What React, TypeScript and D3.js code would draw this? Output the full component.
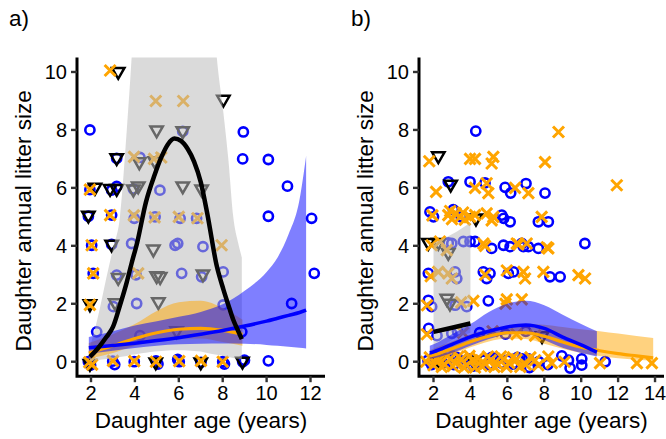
import React from "react";
import * as d3 from "d3";

type Pt = [number, number];
// x, fitted value, lower bound, upper bound
type Fit = [number, number, number, number];

const BLUE = "#0000ff";
const ORANGE = "#ffa500";
const FONT = "'Liberation Sans', Arial, sans-serif";

const yTicks = [0, 2, 4, 6, 8, 10];
const xTicksA = [2, 4, 6, 8, 10, 12];
const xTicksB = [2, 4, 6, 8, 10, 12, 14];

// ---- panel a) points ----
const circlesA: Pt[] = [
  [1.95, 8.0], [6.18, 7.95], [8.94, 7.93],
  [3.17, 7.02], [4.23, 7.05], [8.91, 7.0], [10.08, 6.98],
  [1.95, 5.94], [2.94, 5.92], [3.17, 6.05], [3.93, 5.96], [5.14, 5.92], [10.95, 6.06],
  [1.88, 5.02], [2.94, 5.06], [3.97, 4.95], [4.92, 5.0], [6.06, 4.95], [6.81, 4.95], [10.08, 5.02], [12.05, 4.95],
  [2.03, 4.02], [2.94, 4.05], [3.85, 4.08], [5.83, 4.02], [5.95, 4.08], [7.1, 3.97],
  [2.1, 3.05], [3.17, 2.99], [4.05, 3.0], [6.13, 3.05], [7.04, 2.93], [8.02, 3.1], [12.17, 3.05],
  [3.02, 1.9], [4.08, 2.01], [8.02, 1.96], [11.14, 2.01],
  [2.26, 1.03], [4.23, 0.9], [8.87, 1.03],
  [1.88, 0.0], [1.98, -0.12], [2.99, 0.02], [3.08, -0.1], [3.97, 0.0], [4.96, 0.03], [5.05, -0.08],
  [6.02, 0.0], [5.95, 0.08], [7.01, -0.02], [8.0, 0.0], [8.08, -0.08], [8.91, 0.0], [8.99, 0.05], [10.08, 0.03],
];
const crossesA: Pt[] = [
  [2.87, 10.05], [4.95, 9.0], [6.2, 9.0], [3.96, 7.07], [4.87, 7.0], [5.2, 7.05],
  [1.95, 5.94], [2.87, 5.06], [3.95, 5.05], [4.9, 4.98], [6.0, 5.0], [6.85, 4.95],
  [2.03, 4.02], [7.95, 4.02], [2.1, 3.05], [4.15, 3.05], [1.95, 1.96],
  [1.92, -0.02], [2.05, -0.1], [3.0, 0.03], [3.97, 0.02], [4.96, 0.0], [6.02, 0.02], [7.01, 0.03], [8.0, 0.0],
];
const trianglesA: Pt[] = [
  [3.24, 9.98], [8.03, 9.02], [4.99, 7.96], [6.18, 7.93], [3.17, 7.0], [4.2, 6.86], [4.9, 6.9],
  [2.18, 5.98], [2.87, 5.94], [3.17, 5.94], [3.93, 5.92], [4.15, 6.03], [6.18, 6.03], [7.04, 5.92], [1.88, 5.02],
  [2.94, 4.02], [4.84, 3.85], [7.1, 2.99], [3.24, 2.87], [4.99, 2.93], [5.15, 2.9],
  [1.95, 1.96], [3.1, 2.0], [5.07, 2.03], [5.9, 1.03],
  [1.95, -0.1], [4.95, -0.05], [7.0, -0.05], [8.9, -0.02],
];

// ---- panel a) fitted curves ----
const blackFitA: Fit[] = [
  [1.95, 0.17, 0.02, 0.5], [2.3, 0.45, 0.05, 1.5], [2.7, 0.85, 0.09, 2.9], [3.0, 1.2, 0.12, 3.9],
  [3.32, 1.95, 0.16, 5.0], [3.63, 2.75, 0.2, 8.0], [3.85, 3.4, 0.24, 10.5], [4.1, 4.1, 0.27, 14],
  [4.5, 5.5, 0.31, 20], [4.9, 6.45, 0.35, 24], [5.2, 7.05, 0.37, 26], [5.5, 7.5, 0.39, 27],
  [5.8, 7.7, 0.4, 27], [6.1, 7.62, 0.4, 27], [6.4, 7.35, 0.39, 26], [6.7, 6.9, 0.37, 24],
  [7.0, 6.2, 0.35, 20], [7.3, 5.1, 0.3, 15], [7.73, 3.3, 0.24, 10.5], [8.03, 2.5, 0.2, 8.6],
  [8.26, 1.95, 0.16, 6.96], [8.48, 1.45, 0.13, 5.0], [8.71, 1.05, 0.1, 4.08], [8.87, 0.78, 0.08, 3.6],
];
const orangeFitA: Fit[] = [
  [1.9, 0.3, 0.1, 0.65], [3, 0.55, 0.3, 0.95], [4, 0.8, 0.55, 1.3], [5, 1.0, 0.72, 1.75],
  [6, 1.12, 0.8, 2.05], [7, 1.15, 0.8, 2.1], [8, 1.08, 0.68, 1.85], [8.9, 0.95, 0.55, 1.45],
];
const blueFitA: Fit[] = [
  [1.9, 0.48, 0.28, 0.85], [3, 0.56, 0.38, 1.05], [4, 0.64, 0.47, 1.25], [5, 0.73, 0.55, 1.4],
  [6, 0.83, 0.6, 1.55], [7, 0.95, 0.62, 1.72], [8, 1.08, 0.63, 1.98], [9, 1.23, 0.62, 2.45],
  [10, 1.4, 0.58, 3.1], [10.5, 1.5, 0.55, 3.6], [11, 1.6, 0.52, 4.4], [11.5, 1.7, 0.48, 5.6], [11.8, 1.78, 0.46, 7.1],
];

// ---- panel b) points ----
const circlesB: Pt[] = [
  [4.29, 7.96],
  [2.8, 6.21], [3.98, 6.21], [4.79, 6.17], [5.88, 6.02], [6.18, 5.82], [7.01, 6.15], [8.04, 5.82],
  [1.81, 5.17], [2.0, 5.0], [3.07, 5.25], [3.5, 5.0], [5.7, 5.06], [5.8, 4.95], [6.15, 4.83], [7.68, 4.83], [8.22, 4.83],
  [2.8, 4.1], [2.99, 4.08], [3.62, 4.15], [3.98, 4.15], [4.25, 4.15], [5.15, 3.91], [5.79, 4.02], [6.15, 3.97],
  [6.78, 4.08], [6.87, 3.97], [7.14, 3.97], [7.68, 3.91], [10.2, 4.08],
  [1.72, 3.05], [3.17, 3.1], [3.26, 2.87], [4.7, 3.1], [4.88, 2.87], [5.06, 3.05], [6.05, 3.05], [6.33, 3.1],
  [8.31, 2.93], [8.86, 2.93],
  [1.72, 2.12], [1.9, 1.9], [3.17, 1.95], [3.8, 1.9], [4.97, 2.1],
  [1.74, 1.15], [2.19, 0.9], [2.99, 0.98], [3.3, 1.05], [4.5, 1.0], [5.9, 0.95], [7.0, 1.05],
  [1.7, 0.05], [1.9, -0.1], [2.05, 0.18], [2.2, 0.1], [2.5, -0.05], [2.8, 0.08], [3.1, -0.1], [3.25, 0.15],
  [3.4, 0.05], [3.7, -0.05], [4.0, 0.1], [4.15, -0.15], [4.3, -0.08], [4.7, 0.05], [5.0, -0.1], [5.15, 0.15],
  [5.3, 0.08], [5.7, -0.05], [6.0, 0.05], [6.3, -0.08], [6.55, 0.15], [6.8, 0.1], [7.14, 0.1], [7.2, -0.2],
  [7.7, 0.0], [8.2, -0.1], [8.95, 0.2], [9.31, 0.05], [9.4, -0.22], [10.03, 0.1], [10.03, -0.12], [11.3, 0.0],
];
const crossesB: Pt[] = [
  [1.77, 6.92], [3.98, 7.0], [4.25, 7.0], [5.24, 7.07], [5.15, 6.84], [8.04, 6.89], [8.77, 7.93], [11.93, 6.09],
  [2.14, 5.86], [4.25, 6.0], [4.88, 6.16], [4.97, 5.82], [6.42, 6.0], [7.14, 5.82],
  [1.94, 5.05], [2.8, 5.06], [2.9, 5.2], [3.0, 4.92], [3.2, 5.12], [3.44, 5.0], [3.6, 5.15], [3.7, 4.9],
  [3.98, 5.0], [4.25, 5.06], [4.88, 5.12], [5.15, 4.88], [5.24, 5.0], [7.86, 5.0],
  [1.9, 4.02], [2.35, 4.15], [2.72, 3.85], [4.7, 4.08], [4.79, 4.0], [6.51, 4.08], [6.6, 4.05], [7.05, 4.08],
  [8.14, 3.95], [8.22, 3.91],
  [1.85, 2.95], [2.26, 3.1], [2.8, 3.05], [2.99, 2.87], [4.8, 3.0], [5.97, 3.15], [6.87, 3.1], [6.96, 2.87],
  [7.95, 3.1], [9.85, 2.99], [10.21, 2.87],
  [1.65, 1.95], [3.5, 2.05], [4.16, 2.1], [5.9, 2.0], [5.97, 2.15], [6.78, 2.15],
  [1.64, 0.95], [3.6, 1.0], [5.2, 1.05], [6.5, 0.95], [7.5, 0.9],
  [1.6, 0.0], [1.8, 0.15], [2.0, -0.12], [2.15, 0.1], [2.3, 0.05], [2.45, -0.18], [2.6, -0.1], [2.75, 0.2],
  [2.9, 0.1], [3.05, -0.15], [3.2, -0.05], [3.35, 0.18], [3.5, 0.08], [3.65, -0.2], [3.8, -0.12], [3.95, 0.2],
  [4.1, 0.05], [4.25, -0.2], [4.4, 0.12], [4.6, -0.15], [4.8, -0.08], [4.95, 0.18], [5.1, 0.05], [5.3, -0.18],
  [5.5, -0.1], [5.65, 0.18], [5.8, 0.1], [5.95, -0.18], [6.1, -0.05], [6.3, 0.15], [6.5, 0.08], [6.7, -0.18],
  [7.0, -0.1], [7.25, 0.15], [7.5, 0.05], [7.68, -0.12], [8.22, 0.18], [8.41, -0.05], [9.1, 0.0],
  [11.02, -0.05], [13.02, -0.05], [13.83, -0.05],
];
const trianglesB: Pt[] = [
  [2.26, 7.07], [2.93, 6.09], [4.3, 4.92], [1.72, 4.08], [2.26, 4.08], [2.8, 3.73],
  [2.72, 2.15], [2.89, 1.98], [7.88, 0.86], [2.3, 0.0], [4.2, 0.0],
];

// ---- panel b) fitted curves ----
const blackFitB: Fit[] = [
  [2.0, 1.03, 0.3, 4.1], [3.0, 1.17, 0.75, 4.4], [4.0, 1.32, 1.0, 4.8],
];
const orangeFitB: Fit[] = [
  [1.8, 0.2, 0.08, 0.4], [2, 0.23, 0.1, 0.45], [3, 0.45, 0.27, 0.7], [4, 0.69, 0.5, 0.95],
  [5, 0.88, 0.7, 1.12], [6, 1.0, 0.8, 1.25], [7, 1.0, 0.78, 1.3], [8, 0.88, 0.62, 1.28],
  [9, 0.68, 0.45, 1.2], [10, 0.5, 0.3, 1.12], [11, 0.38, 0.2, 1.05], [12, 0.28, 0.12, 0.97],
  [13, 0.2, 0.07, 0.89], [13.9, 0.13, 0.04, 0.82],
];
const blueFitB: Fit[] = [
  [1.8, 0.3, 0.1, 0.55], [2, 0.34, 0.12, 0.6], [3, 0.6, 0.3, 0.95], [4, 0.86, 0.55, 1.3],
  [5, 1.05, 0.78, 1.72], [6, 1.2, 0.95, 2.0], [7, 1.27, 0.98, 2.1], [8, 1.15, 0.75, 1.95],
  [9, 0.85, 0.48, 1.62], [10, 0.58, 0.3, 1.3], [10.85, 0.33, 0.18, 1.05],
];

const crossPath = "M-5.5,-5.5L5.5,5.5M-5.5,5.5L5.5,-5.5";
const triPath = "M-6.2,-4.6L6.2,-4.6L0,6.2Z";

type PanelProps = {
  id: string;
  left: number;
  right: number;
  xDomain: [number, number];
  xTicks: number[];
  label: string;
  circles: Pt[];
  crosses: Pt[];
  triangles: Pt[];
  blackFit: Fit[];
  orangeFit: Fit[];
  blueFit: Fit[];
};

const Panel = (p: PanelProps) => {
  const top = 57.5;
  const bottom = 376.2;
  const x = d3.scaleLinear().domain(p.xDomain).range([p.left, p.right]);
  const y = d3.scaleLinear().domain([-0.5, 10.5]).range([bottom, top]);

  const area = d3
    .area<Fit>()
    .x((d) => x(d[0]))
    .y0((d) => y(d[2]))
    .y1((d) => y(d[3]))
    .curve(d3.curveMonotoneX);
  const line = d3
    .line<Fit>()
    .x((d) => x(d[0]))
    .y((d) => y(d[1]))
    .curve(d3.curveMonotoneX);

  const clipId = `clip-${p.id}`;
  const midX = (p.left + p.right) / 2;
  const midY = (top + bottom) / 2 + 4;

  return (
    <g fontFamily={FONT}>
      <defs>
        <clipPath id={clipId}>
          <rect x={p.left} y={top} width={p.right - p.left} height={bottom - top} />
        </clipPath>
      </defs>

      <g clipPath={`url(#${clipId})`}>
        {/* points */}
        {p.circles.map((d, i) => (
          <circle key={`c${i}`} cx={x(d[0])} cy={y(d[1])} r={4.6} fill="none" stroke={BLUE} strokeWidth={2.6} />
        ))}
        {p.triangles.map((d, i) => (
          <path key={`t${i}`} d={triPath} transform={`translate(${x(d[0])},${y(d[1])})`} fill="none" stroke="#000" strokeWidth={2.5} />
        ))}
        {p.crosses.map((d, i) => (
          <path key={`x${i}`} d={crossPath} transform={`translate(${x(d[0])},${y(d[1])})`} stroke={ORANGE} strokeWidth={3} />
        ))}

        {/* confidence ribbons */}
        <path d={area(p.blackFit) ?? ""} fill="#bbbbbb" fillOpacity={0.55} />
        <path d={area(p.orangeFit) ?? ""} fill={ORANGE} fillOpacity={0.5} />
        <path d={area(p.blueFit) ?? ""} fill={BLUE} fillOpacity={0.5} />

        {/* fitted lines */}
        <path d={line(p.orangeFit) ?? ""} fill="none" stroke={ORANGE} strokeWidth={3.2} />
        <path d={line(p.blueFit) ?? ""} fill="none" stroke={BLUE} strokeWidth={3.5} />
        <path d={line(p.blackFit) ?? ""} fill="none" stroke="#000" strokeWidth={4.5} />
      </g>

      {/* axes */}
      <path d={`M${p.left},${top}V${bottom}H${p.right}`} fill="none" stroke="#000" strokeWidth={3} strokeLinejoin="miter" />
      {yTicks.map((t) => (
        <g key={`yt${t}`}>
          <line x1={p.left - 6} x2={p.left} y1={y(t)} y2={y(t)} stroke="#333" strokeWidth={2.4} />
          <text x={p.left - 10} y={y(t) + 7} textAnchor="end" fontSize={20} fill="#000">
            {t}
          </text>
        </g>
      ))}
      {p.xTicks.map((t) => (
        <g key={`xt${t}`}>
          <line x1={x(t)} x2={x(t)} y1={bottom} y2={bottom + 6} stroke="#333" strokeWidth={2.4} />
          <text x={x(t)} y={400} textAnchor="middle" fontSize={20} fill="#000">
            {t}
          </text>
        </g>
      ))}

      {/* titles */}
      <text x={midX} y={428} textAnchor="middle" fontSize={22.5} fill="#000">
        Daughter age (years)
      </text>
      <text transform={`translate(${p.left - 46},${midY}) rotate(-90)`} textAnchor="middle" fontSize={22.5} fill="#000">
        Daughter annual litter size
      </text>
      <text x={p.left - 68} y={26} fontSize={22.5} fill="#000">
        {p.label}
      </text>
    </g>
  );
};

export default function App() {
  return (
    <div style={{ position: "absolute", left: 0, top: 0 }}>
      <svg width={666} height={439} style={{ display: "block", background: "#fff" }}>
        <Panel
          id="a"
          left={77}
          right={325}
          xDomain={[1.362, 12.66]}
          xTicks={xTicksA}
          label="a)"
          circles={circlesA}
          crosses={crossesA}
          triangles={trianglesA}
          blackFit={blackFitA}
          orangeFit={orangeFitA}
          blueFit={blueFitA}
        />
        <Panel
          id="b"
          left={419}
          right={664}
          xDomain={[1.214, 14.486]}
          xTicks={xTicksB}
          label="b)"
          circles={circlesB}
          crosses={crossesB}
          triangles={trianglesB}
          blackFit={blackFitB}
          orangeFit={orangeFitB}
          blueFit={blueFitB}
        />
      </svg>
    </div>
  );
}
